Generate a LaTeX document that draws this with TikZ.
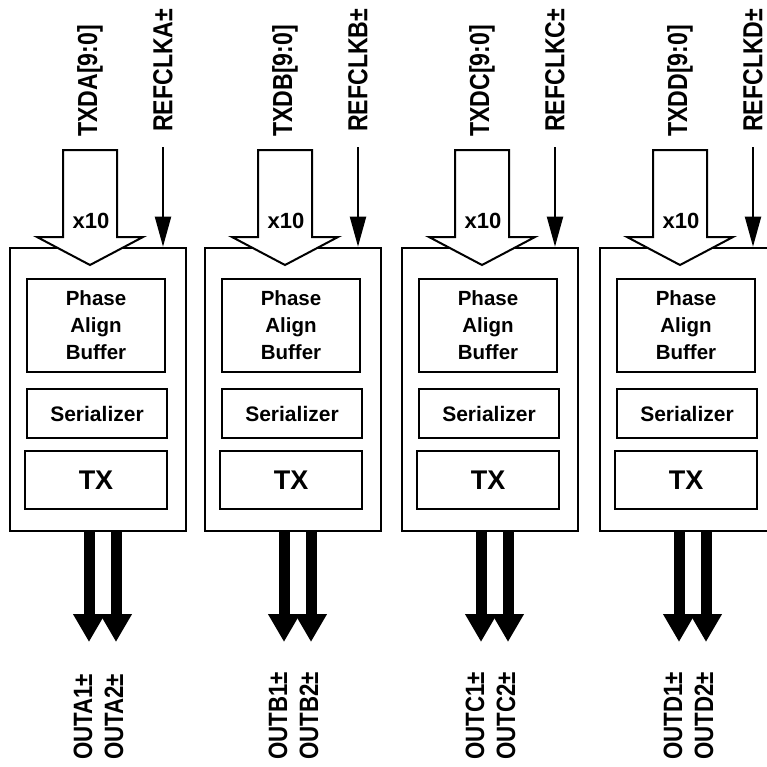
\documentclass[tikz,border=0pt]{standalone}
\usepackage{fontspec}
\setmainfont{Liberation Sans}
\newfontfamily\pinfont{Liberation Sans}[FakeStretch=0.84]
\usetikzlibrary{arrows.meta}

\tikzset{
  unit/.style={draw, line width=2.6pt, minimum width=176pt, minimum height=283pt, inner sep=0pt},
  stage/.style={draw, line width=2pt, inner sep=0pt, align=center},
  bus/.style={draw, fill=white, line width=2pt, line join=miter},
  clk/.style={line width=2pt, -{Triangle[width=16pt,length=30pt]}},
  lane/.style={line width=11pt, -{Triangle[width=30pt,length=28pt]}},
  pin/.style={rotate=90, anchor=west, inner sep=0pt, font=\fontsize{27.5}{28}\pinfont\bfseries},
  outpin/.style={rotate=90, anchor=west, inner sep=0pt, font=\fontsize{26.5}{28}\pinfont\bfseries},
  pab/.style={stage, minimum width=138pt, minimum height=93pt, font=\fontsize{20.5}{27}\bfseries},
  ser/.style={stage, minimum width=140pt, minimum height=49pt, font=\fontsize{21}{24}\bfseries},
  tx/.style={stage, minimum width=142pt, minimum height=58pt, font=\fontsize{27}{30}\bfseries},
  mult/.style={inner sep=0pt, font=\fontsize{22}{24}\bfseries}
}

\begin{document}
\begin{tikzpicture}[x=1pt,y=-1pt]
  \useasboundingbox (0,0) rectangle (767,766);
  \clip (0,0) rectangle (767,766);
  % channel A
  \begin{scope}
    \node[unit] (boxA) at (98,389.5) {};
    \draw[bus] (63,150) -- (117,150) -- (117,237) -- (143,237) -- (90,265)
      -- (37,237) -- (63,237) -- cycle;
    \node[mult] (xA) at (91,221) {x10};
    \node[pab] (pabA) at (96,325.5) {Phase\\Align\\Buffer};
    \node[ser] (serA) at (97,413.5) {Serializer};
    \node[tx] (txA) at (96,480) {TX};
    \node[pin] (txdA) at (90,137) {TXDA[9:0]};
    \node[pin] (refA) at (163,132) {REFCLKA±};
    \draw[clk] ([yshift=-15pt]refA.west) -- (refA.west |- boxA.north);
    \coordinate (o1A) at (89,642);
    \coordinate (o2A) at (116,642);
    \draw[lane] (o1A |- boxA.south) -- (o1A);
    \draw[lane] (o2A |- boxA.south) -- (o2A);
    \node[outpin] (out1A) at (83,760) {OUTA1±};
    \node[outpin] (out2A) at (114,760) {OUTA2±};
  \end{scope}
  % channel B
  \begin{scope}[xshift=195pt]
    \node[unit] (boxB) at (98,389.5) {};
    \draw[bus] (63,150) -- (117,150) -- (117,237) -- (143,237) -- (90,265)
      -- (37,237) -- (63,237) -- cycle;
    \node[mult] (xB) at (91,221) {x10};
    \node[pab] (pabB) at (96,325.5) {Phase\\Align\\Buffer};
    \node[ser] (serB) at (97,413.5) {Serializer};
    \node[tx] (txB) at (96,480) {TX};
    \node[pin] (txdB) at (90,137) {TXDB[9:0]};
    \node[pin] (refB) at (163,132) {REFCLKB±};
    \draw[clk] ([yshift=-15pt]refB.west) -- (refB.west |- boxB.north);
    \coordinate (o1B) at (89,642);
    \coordinate (o2B) at (116,642);
    \draw[lane] (o1B |- boxB.south) -- (o1B);
    \draw[lane] (o2B |- boxB.south) -- (o2B);
    \node[outpin] (out1B) at (83,760) {OUTB1±};
    \node[outpin] (out2B) at (114,760) {OUTB2±};
  \end{scope}
  % channel C
  \begin{scope}[xshift=392pt]
    \node[unit] (boxC) at (98,389.5) {};
    \draw[bus] (63,150) -- (117,150) -- (117,237) -- (143,237) -- (90,265)
      -- (37,237) -- (63,237) -- cycle;
    \node[mult] (xC) at (91,221) {x10};
    \node[pab] (pabC) at (96,325.5) {Phase\\Align\\Buffer};
    \node[ser] (serC) at (97,413.5) {Serializer};
    \node[tx] (txC) at (96,480) {TX};
    \node[pin] (txdC) at (90,137) {TXDC[9:0]};
    \node[pin] (refC) at (163,132) {REFCLKC±};
    \draw[clk] ([yshift=-15pt]refC.west) -- (refC.west |- boxC.north);
    \coordinate (o1C) at (89,642);
    \coordinate (o2C) at (116,642);
    \draw[lane] (o1C |- boxC.south) -- (o1C);
    \draw[lane] (o2C |- boxC.south) -- (o2C);
    \node[outpin] (out1C) at (83,760) {OUTC1±};
    \node[outpin] (out2C) at (114,760) {OUTC2±};
  \end{scope}
  % channel D
  \begin{scope}[xshift=590pt]
    \node[unit] (boxD) at (98,389.5) {};
    \draw[bus] (63,150) -- (117,150) -- (117,237) -- (143,237) -- (90,265)
      -- (37,237) -- (63,237) -- cycle;
    \node[mult] (xD) at (91,221) {x10};
    \node[pab] (pabD) at (96,325.5) {Phase\\Align\\Buffer};
    \node[ser] (serD) at (97,413.5) {Serializer};
    \node[tx] (txD) at (96,480) {TX};
    \node[pin] (txdD) at (90,137) {TXDD[9:0]};
    \node[pin] (refD) at (163,132) {REFCLKD±};
    \draw[clk] ([yshift=-15pt]refD.west) -- (refD.west |- boxD.north);
    \coordinate (o1D) at (89,642);
    \coordinate (o2D) at (116,642);
    \draw[lane] (o1D |- boxD.south) -- (o1D);
    \draw[lane] (o2D |- boxD.south) -- (o2D);
    \node[outpin] (out1D) at (83,760) {OUTD1±};
    \node[outpin] (out2D) at (114,760) {OUTD2±};
  \end{scope}
\end{tikzpicture}
\end{document}
